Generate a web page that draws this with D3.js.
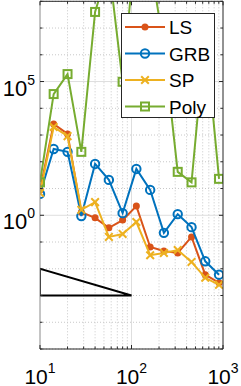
<!DOCTYPE html>
<html>
<head>
<meta charset="utf-8">
<script src="https://cdn.jsdelivr.net/npm/d3@7"></script>
<style>
  body { margin: 0; background: #fff; }
  svg { display: block; font-family: "Liberation Sans", Arial, sans-serif; }
</style>
</head>
<body>
<svg id="chart" width="241" height="386"></svg>
<script>
// data
const N = [10, 14.1, 20, 28.3, 40, 56.6, 80, 113, 160, 226, 320, 453, 640, 905];
const LS   = [8.9, 2600, 1100, 1.3, 0.8, 0.34, 0.66, 2.2, 0.065, 0.046, 0.039, 0.155, 0.006, 0.003];
const GRB  = [6.3, 300, 235, 0.93, 83, 21, 1.2, 54, 8.9, 0.22, 1.1, 0.36, 0.019, 0.006];
const SP   = [6.8, 2000, 910, 1.6, 3.1, 0.155, 0.2, 0.56, 0.032, 0.039, 0.05, 0.018, 0.0046, 0.0025];
const POLY = [17, 34000, 190000, 235, 4e7, 2e9, 9.8e4, 3e10, 3e9, 2e6, 42, 17, 6e6, 23];
const names = ["LS", "GRB", "SP", "Poly"];
const colors = ["#D95319", "#0072BD", "#EDB120", "#77AC30"];
const xMajor = [10, 100, 1000];
const yMajor = [1, 1e5];
const slopeX = [10, 10, 100];
const slopeY = [1e-2, 1e-3, 1e-3];

const svg = d3.select("#chart");
const L = 40, R = 223, T = 1.3, B = 349;

const x = d3.scaleLog().domain([10, 1000]).range([L, R]);
const y = d3.scaleLog().domain([1e-5, 1e8]).range([B, T]);

// minor positions
let xMinor = [];
[10, 100].forEach(d => { for (let k = 2; k <= 9; k++) xMinor.push(d * k); });
let yMinor = [];
for (let e = -5; e <= 8; e++) if (e !== 0 && e !== 5) yMinor.push(Math.pow(10, e));

const grid = svg.append("g");
grid.selectAll(".gx").data(xMinor).enter().append("line")
  .attr("x1", d => x(d)).attr("x2", d => x(d)).attr("y1", T).attr("y2", B)
  .attr("stroke", "#c8c8c8").attr("stroke-dasharray", "1,2");
grid.selectAll(".gy").data(yMinor).enter().append("line")
  .attr("y1", d => y(d)).attr("y2", d => y(d)).attr("x1", L).attr("x2", R)
  .attr("stroke", "#c8c8c8").attr("stroke-dasharray", "1,2");
grid.selectAll(".Gx").data([100]).enter().append("line")
  .attr("x1", d => x(d)).attr("x2", d => x(d)).attr("y1", T).attr("y2", B)
  .attr("stroke", "#dedede");
grid.selectAll(".Gy").data(yMajor).enter().append("line")
  .attr("y1", d => y(d)).attr("y2", d => y(d)).attr("x1", L).attr("x2", R)
  .attr("stroke", "#dedede");

// clip
svg.append("clipPath").attr("id", "clip").append("rect")
  .attr("x", L).attr("y", T).attr("width", R - L).attr("height", B - T);

const plot = svg.append("g").attr("clip-path", "url(#clip)");

// slope triangle
plot.append("path")
  .attr("d", d3.line().x(d => x(d[0])).y(d => y(d[1]))(slopeX.map((d, i) => [d, slopeY[i]])) + "Z")
  .attr("fill", "none").attr("stroke", "#000").attr("stroke-width", 2);

const line = d3.line().x(d => x(d[0])).y(d => y(d[1]));

function marker(g, type, color, cx, cy) {
  if (type === 0) {
    g.append("circle").attr("cx", cx).attr("cy", cy).attr("r", 3.5).attr("fill", color);
  } else if (type === 1) {
    g.append("circle").attr("cx", cx).attr("cy", cy).attr("r", 4.2)
      .attr("fill", "none").attr("stroke", color).attr("stroke-width", 2);
  } else if (type === 2) {
    const s = 3.8;
    g.append("path").attr("d", `M${cx-s},${cy-s}L${cx+s},${cy+s}M${cx-s},${cy+s}L${cx+s},${cy-s}`)
      .attr("stroke", color).attr("stroke-width", 2);
  } else {
    g.append("rect").attr("x", cx - 4).attr("y", cy - 4).attr("width", 8).attr("height", 8)
      .attr("fill", "none").attr("stroke", color).attr("stroke-width", 2);
  }
}

[LS, GRB, SP, POLY].forEach((vals, i) => {
  const pts = N.map((n, j) => [n, vals[j]]);
  const g = plot.append("g");
  g.append("path").attr("d", line(pts))
    .attr("fill", "none").attr("stroke", colors[i]).attr("stroke-width", 2);
  pts.forEach(p => marker(g, i, colors[i], x(p[0]), y(p[1])));
});

// axes box
const ax = svg.append("g");
ax.append("line").attr("x1", L).attr("x2", L).attr("y1", T).attr("y2", B).attr("stroke", "#8a8a8a");
ax.append("line").attr("x1", R).attr("x2", R).attr("y1", T).attr("y2", B).attr("stroke", "#262626");
ax.append("line").attr("x1", L).attr("x2", R).attr("y1", B).attr("y2", B).attr("stroke", "#262626");
ax.append("line").attr("x1", L).attr("x2", R).attr("y1", T).attr("y2", T).attr("stroke", "#262626");

// inward ticks
function ticksX(vals, len) {
  vals.forEach(v => {
    ax.append("line").attr("x1", x(v)).attr("x2", x(v)).attr("y1", B).attr("y2", B - len).attr("stroke", "#262626");
    ax.append("line").attr("x1", x(v)).attr("x2", x(v)).attr("y1", T).attr("y2", T + len).attr("stroke", "#262626");
  });
}
function ticksY(vals, len) {
  vals.forEach(v => {
    ax.append("line").attr("y1", y(v)).attr("y2", y(v)).attr("x1", L).attr("x2", L + len).attr("stroke", "#262626");
    ax.append("line").attr("y1", y(v)).attr("y2", y(v)).attr("x1", R).attr("x2", R - len).attr("stroke", "#262626");
  });
}
ticksX(xMajor, 4); ticksX(xMinor, 2.5);
ticksY(yMajor, 4); ticksY(yMinor, 2.5);

// tick labels
xMajor.forEach(v => {
  const t = svg.append("text").attr("x", x(v)).attr("y", 384).attr("text-anchor", "middle")
    .attr("fill", "#000").style("font-size", "21px");
  t.append("tspan").text("10");
  t.append("tspan").text(Math.round(Math.log10(v))).attr("dy", -11).style("font-size", "14px");
});
yMajor.forEach(v => {
  const t = svg.append("text").attr("x", 35).attr("y", y(v) + 14).attr("text-anchor", "end")
    .attr("fill", "#000").style("font-size", "22px");
  t.append("tspan").text("10");
  t.append("tspan").text(Math.round(Math.log10(v))).attr("dy", -11).style("font-size", "14px");
});

// legend
const lg = svg.append("g");
lg.append("rect").attr("x", 121.5).attr("y", 13.5).attr("width", 93).attr("height", 104)
  .attr("fill", "#fff").attr("stroke", "#262626");
names.forEach((nm, i) => {
  const ly = 27 + i * 26.5;
  lg.append("line").attr("x1", 125).attr("x2", 165).attr("y1", ly).attr("y2", ly)
    .attr("stroke", colors[i]).attr("stroke-width", 2);
  marker(lg, i, colors[i], 145, ly);
  lg.append("text").attr("x", 169).attr("y", ly + 7).attr("fill", "#000")
    .style("font-size", "19px").text(nm);
});
</script>
</body>
</html>
